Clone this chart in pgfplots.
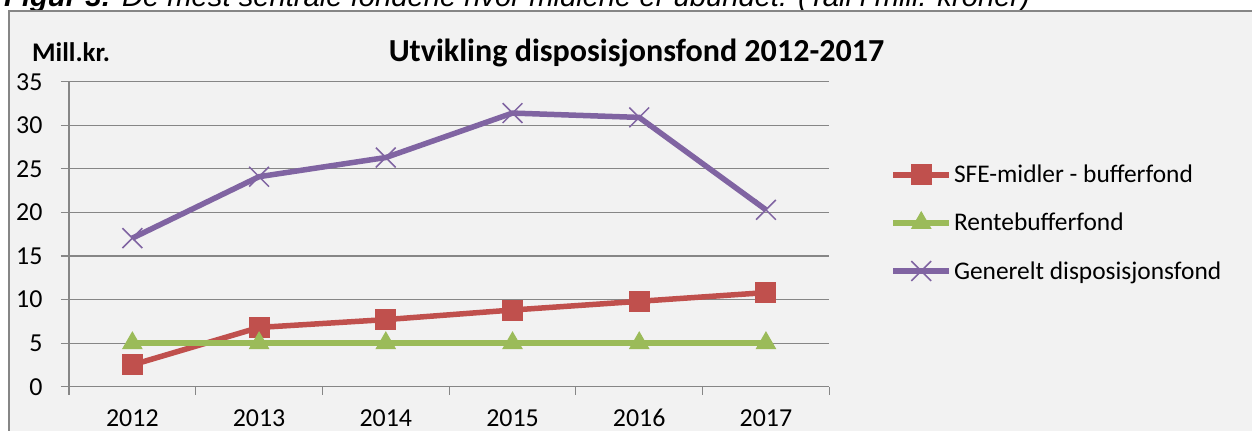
\documentclass[border=0pt]{standalone}
\usepackage{pgfplots}
\pgfplotsset{compat=1.18}
\usepackage{fontspec}
\setmainfont{Carlito}
\newfontfamily\capfont{Liberation Sans}
\definecolor{bg}{HTML}{F2F2F2}
\definecolor{gridc}{HTML}{868686}
\definecolor{sfe}{HTML}{C0504D}
\definecolor{rente}{HTML}{9BBB59}
\definecolor{gen}{HTML}{8064A2}
\begin{document}
\begin{tikzpicture}[x=1bp,y=1bp]
\useasboundingbox (0,0) rectangle (1252,430);
\clip (0,0) rectangle (1252,430);
\node[anchor=base west, inner sep=0, font=\capfont\fontsize{29.3}{33}\selectfont\itshape] at (4,423) {\textbf{Figur 3:} De mest sentrale fondene hvor midlene er ubundet. (Tall i mill. kroner)};
\fill[bg] (9,-20) rectangle (1270,419);
\draw[gridc, line width=1.5bp] (9,-20) -- (9,419) -- (1270,419);
\node[anchor=base, inner sep=0, font=\fontsize{32.2}{36}\selectfont\bfseries] at (636.5,368.3) {Utvikling disposisjonsfond 2012-2017};
\node[anchor=base west, inner sep=0, font=\fontsize{27}{30}\selectfont\bfseries] at (32,368.3) {Mill.kr.};
\begin{axis}[
  at={(69bp,43.3bp)}, anchor=south west, scale only axis,
  width=760.3bp, height=305bp,
  xmin=-0.5, xmax=5.5, ymin=0, ymax=35,
  axis lines*=left,
  axis line style={gridc, line width=1.2bp},
  xtick={0,...,5}, xticklabels={2012,2013,2014,2015,2016,2017},
  minor xtick={-0.5,0.5,...,5.5},
  ytick={0,5,...,35},
  tick align=outside,
  major tick length=8bp, minor tick length=8bp,
  major x tick style={draw=none},
  minor x tick style={gridc, line width=1.2bp},
  ytick style={gridc, line width=1.2bp},
  ymajorgrids,
  major grid style={gridc, line width=1.2bp},
  /pgf/number format/assume math mode=true,
  ticklabel style={font=\fontsize{26}{30}\selectfont},
  xticklabel style={anchor=base, inner sep=0pt, text depth=0pt, yshift=-32bp},
  yticklabel style={anchor=east, xshift=-15bp},
  legend style={at={(1,0.537)}, anchor=west, xshift=61bp, draw=none, fill=none,
    inner sep=0pt, row sep=25bp, font=\fontsize{25.5}{30}\selectfont},
  legend cell align=left,
  legend image code/.code={\draw[mark repeat=2,mark phase=2] plot coordinates {(0bp,0bp)(28bp,0bp)(56bp,0bp)};},
]
\addplot[sfe, line width=5.5bp, mark=square*, mark size=10bp, mark options={solid, fill=sfe, line width=1bp}]
  coordinates {(0,2.5)(1,6.8)(2,7.7)(3,8.8)(4,9.8)(5,10.8)};
\addlegendentry{SFE-midler - bufferfond}
\addplot[rente, line width=5.5bp, mark=triangle*, mark size=11bp, mark options={solid, fill=rente, line width=1bp}]
  coordinates {(0,5)(1,5)(2,5)(3,5)(4,5)(5,5)};
\addlegendentry{Rentebufferfond}
\addplot[gen, line width=5.5bp, mark=x, mark size=14bp, mark options={solid, line width=1.5bp}]
  coordinates {(0,17.05)(1,24.1)(2,26.3)(3,31.4)(4,30.9)(5,20.3)};
\addlegendentry{Generelt disposisjonsfond}
\end{axis}
\end{tikzpicture}
\end{document}
